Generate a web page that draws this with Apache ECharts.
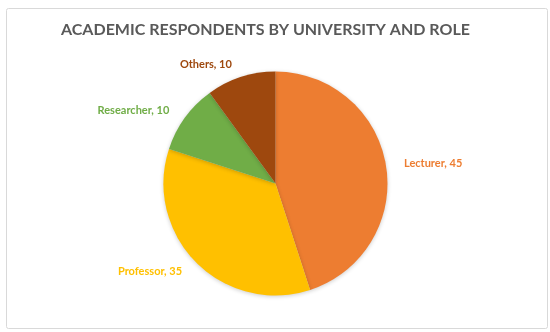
<!DOCTYPE html>
<html>
<head>
<meta charset="utf-8">
<script src="https://cdn.jsdelivr.net/npm/echarts@6/dist/echarts.min.js"></script>
<style>html,body{margin:0;padding:0;background:#fff;}#c{width:550px;height:332px;}</style>
</head>
<body>
<div id="c"></div>
<script>
const titleText = 'ACADEMIC RESPONDENTS BY UNIVERSITY AND ROLE';
const categories = ['Lecturer', 'Professor', 'Researcher', 'Others'];
const values = [45, 35, 10, 10];
const colors = ['#ED7D31', '#FFC000', '#70AD47', '#9E480E'];

const chart = echarts.init(document.getElementById('c'), null, {renderer: 'canvas'});
chart.setOption({
  animation: false,
  backgroundColor: '#fff',
  graphic: [{
    type: 'rect', left: 4, top: 6,
    shape: {width: 541, height: 320, r: 2},
    style: {fill: 'none', stroke: '#d9d9d9', lineWidth: 1}, silent: true
  }],
  title: {
    text: titleText, left: 56, top: 17,
    textStyle: {fontFamily: 'Lato', fontWeight: 'bold', fontSize: 16, color: '#595959'}
  },
  series: [{
    type: 'pie',
    center: [275.5, 183.5],
    radius: 112,
    startAngle: 90,
    clockwise: true,
    data: categories.map((c, i) => ({name: c, value: values[i], itemStyle: {color: colors[i]}, label: {color: colors[i]}})),
    itemStyle: {borderColor: '#fff', borderWidth: 0, shadowBlur: 4, shadowColor: 'rgba(0,0,0,0.2)', shadowOffsetY: 1},
    label: {
      show: true, position: 'outside',
      formatter: '{b}, {c}',
      fontFamily: 'Lato', fontWeight: 'bold', fontSize: 11
    },
    labelLine: {show: false, length: 13, length2: 0}
  }]
});
</script>
</body>
</html>
